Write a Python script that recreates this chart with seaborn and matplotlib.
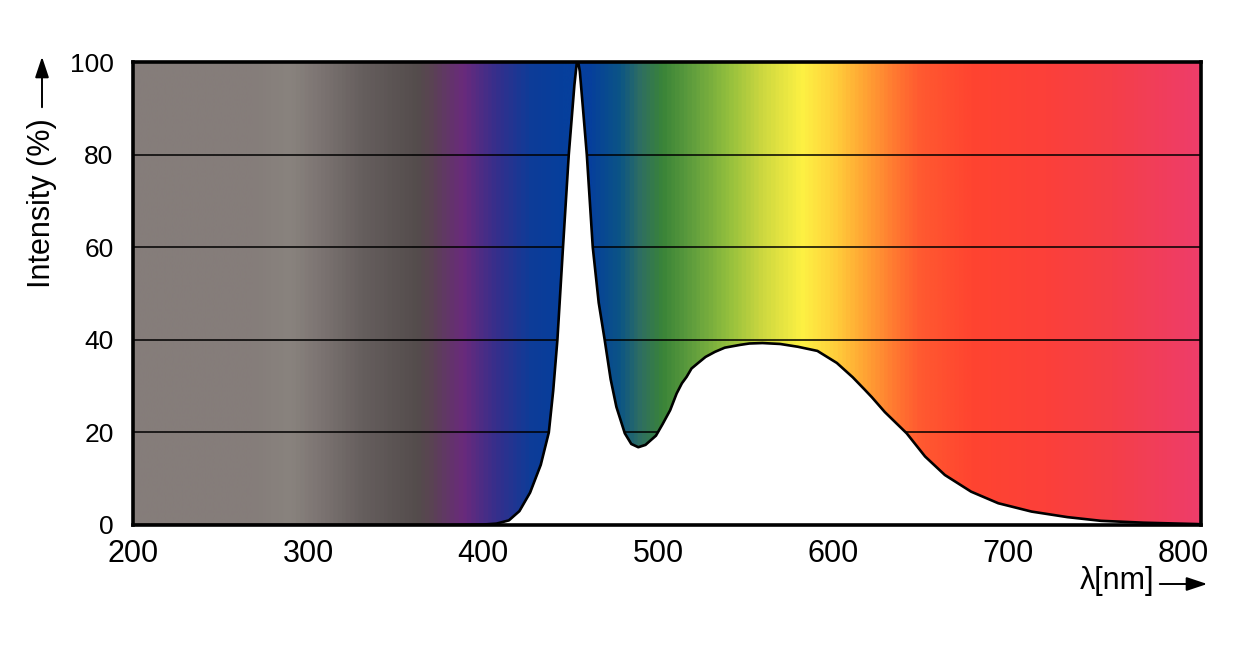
import numpy as np
import pandas as pd
import matplotlib
matplotlib.use("Agg")
import matplotlib.pyplot as plt
from matplotlib.colors import LinearSegmentedColormap
import seaborn as sns

# ---- data ----
wavelength = [200, 380, 400, 407.6, 414.7, 420.7, 426.8, 432.9, 437.5, 440.0, 442.4, 445.6,
              448.9, 452.1, 453.8, 455.2, 457.0, 459.2, 462.6, 466.0, 469.4, 472.8, 476.1,
              480.9, 484.6, 488.6, 492.7, 498.7, 502.5, 506.8, 510.5, 513.5, 516.2, 519.0,
              522.8, 527.0, 532.4, 538.0, 546.7, 552.0, 559.5, 569.6, 579.7, 590.9, 602.0,
              611.1, 618.0, 622.0, 629.4, 641.9, 652.4, 663.7, 678.7, 694.2, 713.2, 733.7,
              752.9, 777.2, 807.6, 810]
intensity = [0.0, 0.0, 0.1, 0.3, 1.0, 3.0, 7.0, 13.0, 20.0, 29.0, 40.0, 60.0,
             80.0, 95.0, 101.0, 98.0, 90.0, 80.0, 60.0, 48.0, 40.0, 31.5, 25.5,
             19.8, 17.5, 16.8, 17.3, 19.3, 21.8, 24.8, 28.4, 30.6, 32.0, 33.8,
             35.0, 36.3, 37.4, 38.3, 38.9, 39.2, 39.3, 39.1, 38.5, 37.6, 35.0,
             31.9, 29.2, 27.6, 24.4, 19.8, 14.8, 10.8, 7.2, 4.7, 2.9, 1.7,
             0.9, 0.5, 0.2, 0.15]
x_ticks = [200, 300, 400, 500, 600, 700, 800]
y_ticks = [0, 20, 40, 60, 80, 100]
grid_levels = [20, 40, 60, 80]

# spectrum background colour stops (wavelength, colour)
stop_wl = [200, 268, 289, 306, 331, 362, 369.3, 388.2, 407.7, 426.5, 445.4,
           460.9, 478, 489.5, 502.6, 522.1, 541, 559.8, 582.7, 599.9, 617,
           635, 650, 680, 722.3, 760, 810]
stop_col = ["#857d7a", "#857d7a", "#89837e", "#7c7472", "#655e5d", "#544c4c",
            "#5a4452", "#6a2a7c", "#342f8c", "#0e3c98", "#063f9c", "#063f9c",
            "#0b5486", "#2e6e62", "#3a8438", "#66a23e", "#95c03d", "#cdd840",
            "#fdf143", "#ffd23c", "#ffa834", "#ff7a31", "#ff5a30",
            "#ff4430", "#fc403a", "#f53f48", "#ee3d6a"]

df = pd.DataFrame({"wavelength": wavelength, "intensity": intensity})

sns.set_theme(style="white")
plt.rcParams["font.family"] = ["Liberation Sans", "DejaVu Sans"]

W, H = 1251, 669
fig = plt.figure(figsize=(W / 100, H / 100), dpi=100)
ax = fig.add_axes([133 / W, 1 - 525 / H, (1201 - 133) / W, (525 - 62) / H])

xmin, xmax = 200, 810
positions = [(w - xmin) / (xmax - xmin) for w in stop_wl]
cmap = LinearSegmentedColormap.from_list("spec", list(zip(positions, stop_col)))
grad = np.linspace(xmin, xmax, 1200)[None, :]
ax.imshow(grad, extent=[xmin, xmax, 0, 100], aspect="auto", cmap=cmap,
          vmin=xmin, vmax=xmax, origin="lower", zorder=0, interpolation="bilinear")

for g in grid_levels:
    ax.axhline(g, color="black", lw=1.1, zorder=1)

ax.fill_between(df["wavelength"], 0, df["intensity"], color="white", zorder=2, lw=0)
sns.lineplot(data=df, x="wavelength", y="intensity", ax=ax, color="black",
             lw=1.9, zorder=3, sort=False)

ax.set_xlim(xmin, xmax)
ax.set_ylim(0, 100)
ax.set_xticks(x_ticks)
ax.set_yticks(y_ticks)
ax.set_xticklabels([str(t) for t in x_ticks])
ax.set_yticklabels([str(t) for t in y_ticks])
ax.tick_params(axis="both", length=0, colors="black")
ax.tick_params(axis="x", pad=10, labelsize=22)
ax.tick_params(axis="y", pad=14, labelsize=19)
ax.set_xlabel("")
ax.set_ylabel("")
ax.grid(False)
for s in ax.spines.values():
    s.set_visible(True)
    s.set_color("black")
    s.set_linewidth(2.6)
    s.set_zorder(5)

# axis titles with arrows
fig.text(42 / W, 1 - 203 / H, "Intensity (%)", rotation=90, ha="center", va="center",
         fontsize=22, color="black")
fig.patches.append(matplotlib.patches.FancyArrowPatch(
    (42 / W, 1 - 110 / H), (42 / W, 1 - 54 / H), transform=fig.transFigure,
    arrowstyle="-|>,head_length=0.9,head_width=0.3", mutation_scale=14, lw=1.4,
    color="black"))
fig.text(1117 / W, 1 - 581 / H, "λ[nm]", ha="center", va="center",
         fontsize=22, color="black")
fig.patches.append(matplotlib.patches.FancyArrowPatch(
    (1157 / W, 1 - 584 / H), (1210 / W, 1 - 584 / H), transform=fig.transFigure,
    arrowstyle="-|>,head_length=0.9,head_width=0.3", mutation_scale=14, lw=1.4,
    color="black"))

fig.savefig("out.png", dpi=100, facecolor="white")
